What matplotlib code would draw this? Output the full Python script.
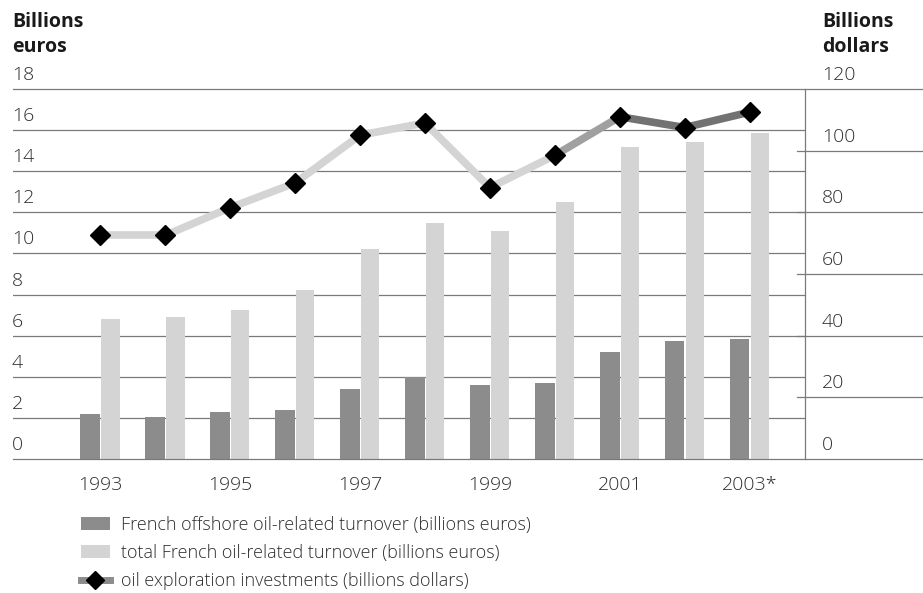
import numpy as np
import matplotlib
matplotlib.use('Agg')
import matplotlib.pyplot as plt
import matplotlib.transforms as mtransforms
from matplotlib.collections import LineCollection
from matplotlib.lines import Line2D
from matplotlib.patches import Patch

# data
years = [1993, 1994, 1995, 1996, 1997, 1998, 1999, 2000, 2001, 2002, 2003]
offshore = [2.2, 2.05, 2.3, 2.4, 3.4, 4.0, 3.6, 3.7, 5.2, 5.75, 5.85]
total = [6.8, 6.9, 7.25, 8.2, 10.2, 11.5, 11.1, 12.5, 15.2, 15.4, 15.85]
investments = [72.5, 72.5, 81.5, 89.5, 105.0, 109.0, 88.0, 98.5, 111.0, 107.5, 112.5]
label_years = [1993, 1995, 1997, 1999, 2001, 2003]
year_labels = ['1993', '1995', '1997', '1999', '2001', '2003*']
euro_ticks = [0, 2, 4, 6, 8, 10, 12, 14, 16, 18]
dollar_ticks = [0, 20, 40, 60, 80, 100, 120]
legend_labels = ['French offshore oil-related turnover (billions euros)',
                 'total French oil-related turnover (billions euros)',
                 'oil exploration investments (billions dollars)']

DARK = '#8c8c8c'
LIGHT = '#d4d4d4'
TXT = '#2e2e2e'
GRID = '#7a7a7a'
FONT = 'Open Sans'
WT = 'light'

plt.rcParams['font.family'] = [FONT, 'DejaVu Sans']

W, H = 923, 593
fig = plt.figure(figsize=(W / 100, H / 100), dpi=100)
fig.patch.set_facecolor('white')

def fx(px):
    return px / W

def fy(py):
    return 1 - py / H

ax = fig.add_axes([fx(13), fy(459), fx(805) - fx(13), fy(89) - fy(459)])
ax2 = ax.twinx()

x = np.array(years, dtype=float)
ax.bar(x - 0.155, offshore, width=0.3, color=DARK, zorder=3)
ax.bar(x + 0.16, total, width=0.28, color=LIGHT, zorder=3)

ax.set_xlim(1991.66, 2003.85)
ax.set_ylim(0, 18)
ax2.set_ylim(0, 120)

for a in (ax, ax2):
    a.set_yticks([])
    a.set_xticks([])
    for s in ('top', 'left', 'bottom'):
        a.spines[s].set_visible(False)
ax.spines['right'].set_visible(False)
ax2.spines['right'].set_color(GRID)
ax2.spines['right'].set_linewidth(0.9)

# left gridlines + labels
for t in euro_ticks[1:-1]:
    ax.axhline(t, color=GRID, lw=0.9, zorder=1)
lt = mtransforms.blended_transform_factory(fig.transFigure, ax.transData)
for t in euro_ticks:
    ax.text(fx(12), t, str(t), transform=lt + mtransforms.ScaledTranslation(0, 14 / 100, fig.dpi_scale_trans),
            ha='left', va='center', fontsize=14, color=TXT, fontweight=WT)

# right gridlines + labels
rt = mtransforms.blended_transform_factory(fig.transFigure, ax2.transData)
for t in dollar_ticks:
    if t in (0, 120):
        x0 = fx(13)
    else:
        x0 = fx(797)
    ax2.add_line(Line2D([x0, 1.0], [t, t], transform=rt, color=GRID, lw=0.9, clip_on=False, zorder=1))
    ax2.text(fx(822), t, str(t), transform=rt + mtransforms.ScaledTranslation(0, 14 / 100, fig.dpi_scale_trans),
             ha='left', va='center', fontsize=14, color=TXT, fontweight=WT)

# investment line, light gray fading to dark gray
pts = np.column_stack([x, investments])
segs = np.stack([pts[:-1], pts[1:]], axis=1)
seg_colors = [LIGHT] * 7 + ['#a0a0a0', '#727272', '#727272']
lc = LineCollection(segs, colors=seg_colors, linewidths=5.5, zorder=4, capstyle='round')
ax2.add_collection(lc)
ax2.plot(x, investments, linestyle='none', marker='D', ms=10, color='black', zorder=5)

# year labels
for yv, yl in zip(label_years, year_labels):
    ax.text(yv, -0.85, yl, ha='center', va='top', fontsize=14, color=TXT, fontweight=WT)

# axis titles
fig.text(fx(12), fy(12), 'Billions\neuros', ha='left', va='top', fontsize=14, fontweight='bold',
         color='#1a1a1a', linespacing=1.3)
fig.text(fx(822), fy(12), 'Billions\ndollars', ha='left', va='top', fontsize=14, fontweight='bold',
         color='#1a1a1a', linespacing=1.3)

handles = [Patch(facecolor=DARK, edgecolor='none'),
           Patch(facecolor=LIGHT, edgecolor='none'),
           Line2D([], [], color='#8c8c8c', lw=5, marker='D', ms=9, markerfacecolor='black',
                  markeredgecolor='black')]
fig.legend(handles, legend_labels, loc='upper left', bbox_to_anchor=(fx(72), fy(507)),
           frameon=False, handlelength=1.6, handleheight=0.7, handletextpad=0.6,
           labelspacing=0.55, borderpad=0, labelcolor=TXT, prop={'weight': WT, 'size': 13})

fig.savefig('out.png', dpi=100, facecolor='white')
